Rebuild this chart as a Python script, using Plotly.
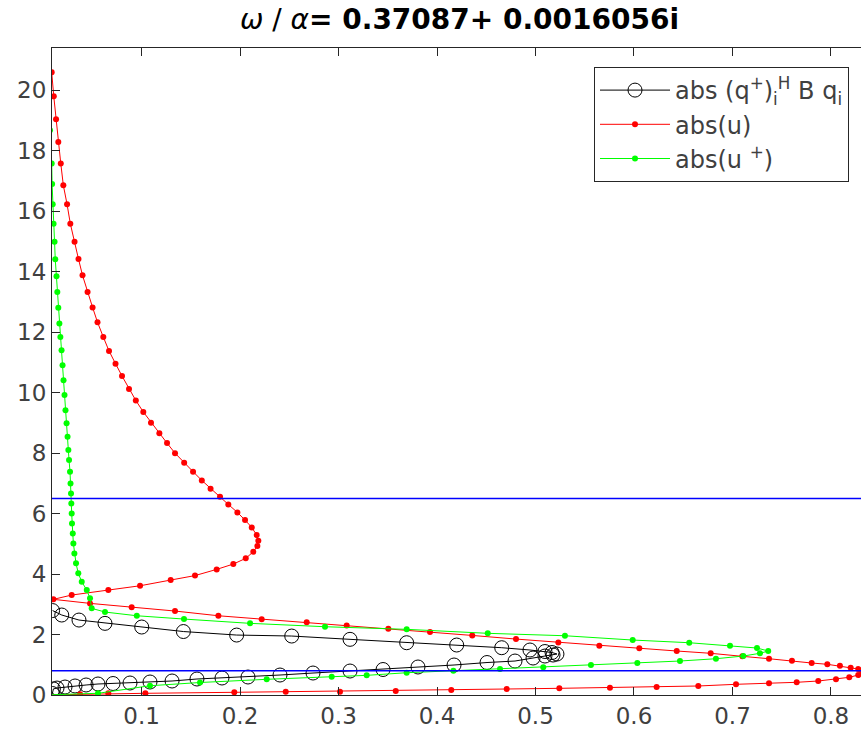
import plotly.graph_objects as go

# |u| profile: wall -> near-wall peak -> back through the dip -> outer lobe -> freestream
red_x = [0.0, 0.0376, 0.0663, 0.1039, 0.1942, 0.2464, 0.3015, 0.3581, 0.4145, 0.4708,
         0.5242, 0.5756, 0.6230, 0.6653, 0.7036, 0.7371, 0.7652, 0.7871, 0.8051, 0.8186,
         0.8277, 0.8315, 0.8277, 0.8200, 0.8091, 0.7963, 0.7804, 0.7604, 0.7371, 0.7100,
         0.6779, 0.6434, 0.6054, 0.5648, 0.5232, 0.4802, 0.4358, 0.3929, 0.3506, 0.3083,
         0.2677, 0.2220, 0.1780, 0.1340, 0.0900, 0.0477, 0.0105, 0.0291, 0.0663, 0.0985,
         0.1296, 0.1543, 0.1763, 0.1932, 0.2058, 0.2135, 0.2176, 0.2186, 0.2169, 0.2119,
         0.2051, 0.1973, 0.1881, 0.1797, 0.1701, 0.1612, 0.1523, 0.1433, 0.1340, 0.1259,
         0.1181, 0.1096, 0.1018, 0.0942, 0.0873, 0.0802, 0.0736, 0.0670, 0.0612, 0.0553,
         0.0503, 0.0452, 0.0401, 0.0360, 0.0320, 0.0277, 0.0244, 0.0206, 0.0180, 0.0155,
         0.0132, 0.0109, 0.0088, 0.0071]
red_y = [0.0, 0.023, 0.056, 0.056, 0.089, 0.109, 0.109, 0.132, 0.165, 0.198,
         0.221, 0.241, 0.264, 0.298, 0.354, 0.387, 0.420, 0.463, 0.519, 0.585,
         0.661, 0.760, 0.860, 0.902, 0.969, 1.015, 1.058, 1.134, 1.200, 1.279,
         1.379, 1.455, 1.544, 1.630, 1.740, 1.850, 1.970, 2.080, 2.190, 2.300,
         2.403, 2.502, 2.621, 2.777, 2.899, 3.030, 3.164, 3.306, 3.471, 3.613,
         3.802, 3.950, 4.155, 4.331, 4.519, 4.737, 4.926, 5.101, 5.289, 5.544,
         5.785, 6.040, 6.304, 6.555, 6.820, 7.098, 7.388, 7.679, 8.000, 8.331,
         8.661, 9.002, 9.362, 9.742, 10.12, 10.55, 10.96, 11.38, 11.84, 12.33,
         12.82, 13.33, 13.88, 14.42, 14.99, 15.59, 16.23, 16.86, 17.58, 18.29,
         19.04, 19.80, 20.60, 21.49]

# |u+| (adjoint) profile
green_x = [0.0, 0.0558, 0.1086, 0.1594, 0.2271, 0.2931, 0.3286, 0.3692, 0.4166, 0.4640,
           0.5079, 0.5563, 0.6034, 0.6467, 0.6832, 0.7110, 0.7279, 0.7363, 0.7249, 0.6975,
           0.6561, 0.5987, 0.5299, 0.4515, 0.3692, 0.2863, 0.2102, 0.1431, 0.0952, 0.0629,
           0.0494, 0.0477, 0.0444, 0.0393, 0.0358, 0.0335, 0.0318, 0.0308, 0.0302, 0.0294,
           0.0291, 0.0287, 0.0284, 0.0279, 0.0274, 0.0264, 0.0257, 0.0249, 0.0239, 0.0228,
           0.0218, 0.0208, 0.0198, 0.0188, 0.0176, 0.0166, 0.0155, 0.0145, 0.0137, 0.0124,
           0.0117, 0.0107, 0.0098, 0.0092, 0.0088, 0.0071]
green_y = [0.0, 0.056, 0.307, 0.413, 0.519, 0.605, 0.650, 0.737, 0.803, 0.860,
           0.916, 0.992, 1.058, 1.124, 1.200, 1.289, 1.379, 1.455, 1.554, 1.630,
           1.729, 1.818, 1.960, 2.040, 2.172, 2.258, 2.370, 2.512, 2.621, 2.744,
           2.866, 3.197, 3.471, 3.745, 4.023, 4.354, 4.684, 5.015, 5.345, 5.676,
           6.007, 6.337, 6.668, 6.998, 7.382, 7.770, 8.100, 8.540, 8.990, 9.420,
           9.920, 10.41, 10.91, 11.40, 11.84, 12.29, 12.81, 13.33, 13.85, 14.41,
           14.99, 15.59, 16.23, 16.90, 17.58, 18.68]

# |(q+)_i^H B q_i| product
black_x = [0.0095, 0.0105, 0.0142, 0.0223, 0.0325, 0.0437, 0.0558, 0.0711, 0.0883, 0.1086,
           0.1310, 0.1563, 0.1817, 0.2081, 0.2406, 0.2741, 0.3117, 0.3452, 0.3807, 0.4173,
           0.4508, 0.4792, 0.4975, 0.5096, 0.5178, 0.5218, 0.5168, 0.5096, 0.4944, 0.4657,
           0.4200, 0.3692, 0.3117, 0.2525, 0.1966, 0.1425, 0.1002, 0.0629, 0.0365, 0.0190,
           0.0097]
black_y = [0.050, 0.200, 0.231, 0.264, 0.298, 0.331, 0.364, 0.380, 0.397, 0.430,
           0.463, 0.529, 0.562, 0.595, 0.661, 0.727, 0.793, 0.843, 0.926, 0.992,
           1.074, 1.124, 1.223, 1.289, 1.322, 1.355, 1.405, 1.438, 1.488, 1.564,
           1.653, 1.729, 1.841, 1.950, 1.983, 2.099, 2.248, 2.370, 2.479, 2.645,
           2.793]

# reference heights marked with horizontal lines
blue_levels = [0.8, 6.5]

x_ticks = [0.1, 0.2, 0.3, 0.4, 0.5, 0.6, 0.7, 0.8]
y_ticks = [0, 2, 4, 6, 8, 10, 12, 14, 16, 18, 20]

AX = "#262626"
TICK_TXT = "#404040"
FONT = "DejaVu Sans"

fig = go.Figure()
fig.add_trace(go.Scatter(
    x=black_x, y=black_y, mode="lines+markers",
    name="abs (q<sup>+</sup>)<sub>i</sub><sup>H</sup> B q<sub>i</sub>",
    line=dict(color="black", width=1),
    marker=dict(symbol="circle-open", size=14, color="black", line=dict(width=1)),
))
fig.add_trace(go.Scatter(
    x=red_x, y=red_y, mode="lines+markers", name="abs(u)",
    line=dict(color="#ff0000", width=1),
    marker=dict(symbol="circle", size=6, color="#ff0000"),
))
fig.add_trace(go.Scatter(
    x=green_x, y=green_y, mode="lines+markers", name="abs(u <sup>+</sup>)",
    line=dict(color="#00ff00", width=1),
    marker=dict(symbol="circle", size=6, color="#00ff00"),
))

for lvl in blue_levels:
    fig.add_shape(type="line", xref="paper", x0=0, x1=1, yref="y", y0=lvl, y1=lvl,
                  line=dict(color="#0000ff", width=1.5), layer="above")

fig.update_layout(
    width=861, height=734,
    margin=dict(l=52, r=0, t=48, b=39),
    paper_bgcolor="white", plot_bgcolor="white",
    font=dict(family=FONT, size=23, color=TICK_TXT),
    title=dict(
        text="<i>ω</i> / <i>α</i><b>= 0.37087+ 0.0016056i</b>",
        font=dict(family=FONT, size=28, color="black"),
        x=(459.5 - 52) / 809, xref="paper", xanchor="center",
        y=1 - 19 / 734, yref="container", yanchor="middle",
    ),
    showlegend=True,
    legend=dict(
        x=(849 - 52) / 809, y=(695 - 67) / 647, xanchor="right", yanchor="top",
        bgcolor="white", bordercolor=AX, borderwidth=1,
        font=dict(family=FONT, size=24, color=TICK_TXT),
        itemwidth=70, tracegroupgap=0,
    ),
)
fig.update_xaxes(
    range=[0.0091, 0.8305], tickvals=x_ticks, ticktext=[f"{v:.1f}" for v in x_ticks],
    showgrid=False, zeroline=False, showline=True, linecolor=AX, linewidth=1,
    mirror="ticks", ticks="inside", ticklen=8, tickcolor=AX, tickwidth=1,
)
fig.update_yaxes(
    range=[0, 21.4], tickvals=y_ticks,
    showgrid=False, zeroline=False, showline=True, linecolor=AX, linewidth=1,
    mirror=False, ticks="inside", ticklen=8, tickcolor=AX, tickwidth=1,
)

fig.write_html("out.html")
